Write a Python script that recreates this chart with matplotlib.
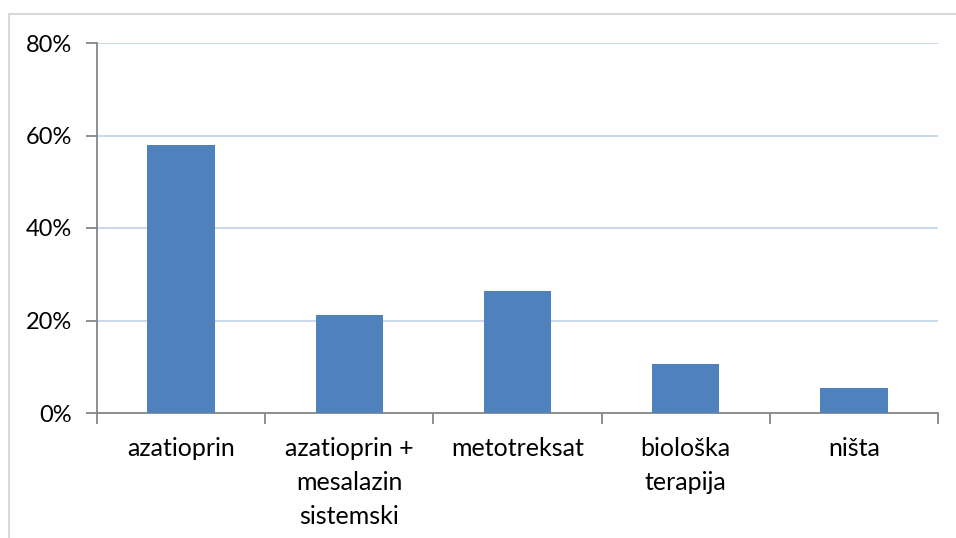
import matplotlib
matplotlib.use("Agg")
import matplotlib.pyplot as plt
from matplotlib.patches import Rectangle
from matplotlib.ticker import FuncFormatter, MultipleLocator

# data
categories = ["azatioprin", "azatioprin +\nmesalazin\nsistemski", "metotreksat",
              "biološka\nterapija", "ništa"]
shares = [57.9, 21.1, 26.3, 10.5, 5.3]

bar_color = "#4F81BD"
grid_color = "#C6D5EA"
axis_color = "#868686"

plt.rcParams["font.family"] = ["Lato", "DejaVu Sans"]

fig = plt.figure(figsize=(9.56, 5.38), dpi=100)
ax = fig.add_axes([97 / 956, 1 - 413 / 538, (938 - 97) / 956, (413 - 43) / 538])

# light frame round the chart area
fig.patches.append(Rectangle((9 / 956, -0.1), 1.2, 1 - 14 / 538 + 0.1,
                             transform=fig.transFigure, fill=False,
                             edgecolor="#D9D9D9", linewidth=1.5))

x = list(range(len(categories)))
ax.bar(x, shares, width=0.4, color=bar_color, zorder=3)

ax.set_xlim(-0.5, len(categories) - 0.5)
ax.set_ylim(0, 80)
ax.yaxis.set_major_locator(MultipleLocator(20))
ax.yaxis.set_major_formatter(FuncFormatter(lambda v, p: f"{v:.0f}%"))
ax.grid(axis="y", color=grid_color, linewidth=1.3, zorder=0)

# category labels between boundary ticks
ax.set_xticks([i - 0.5 for i in range(len(categories) + 1)])
ax.set_xticklabels([])
ax.set_xticks(x, minor=True)
ax.set_xticklabels(categories, minor=True, fontsize=18, linespacing=1.6)
ax.tick_params(axis="x", which="minor", length=0, pad=17)
ax.tick_params(axis="x", which="major", length=8, width=1.3, color=axis_color)
ax.tick_params(axis="y", length=8, width=1.3, color=axis_color, labelsize=17, pad=10)

for side in ["top", "right"]:
    ax.spines[side].set_visible(False)
for side in ["left", "bottom"]:
    ax.spines[side].set_color(axis_color)
    ax.spines[side].set_linewidth(1.3)

for lbl in ax.get_xticklabels(minor=True):
    lbl.set_verticalalignment("top")

fig.savefig("out.png", dpi=100, facecolor="white")
